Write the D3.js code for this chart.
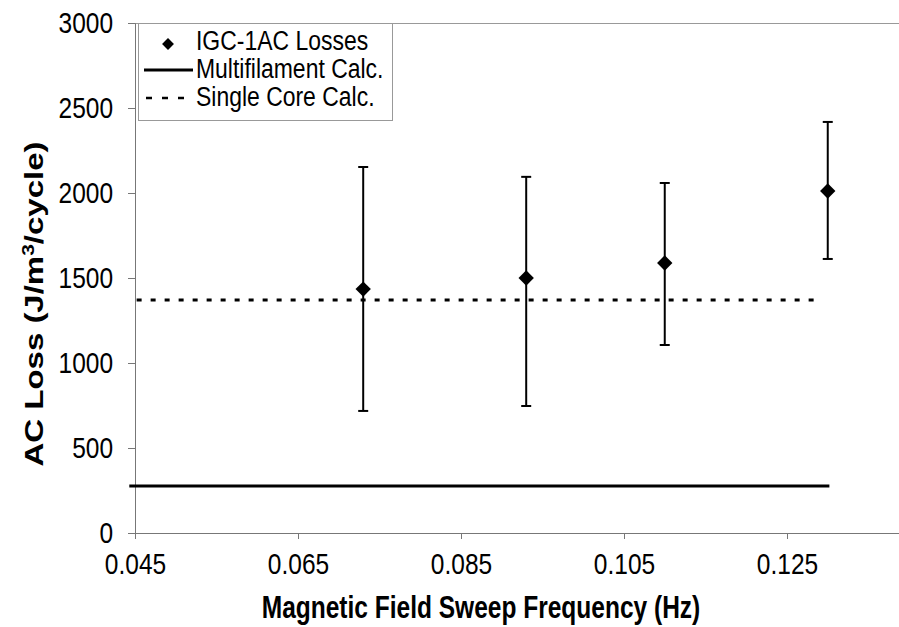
<!DOCTYPE html>
<html>
<head>
<meta charset="utf-8">
<script src="https://cdn.jsdelivr.net/npm/d3@7"></script>
<style>
  body { margin: 0; background: #fff; }
  svg { display: block; font-family: Arial, "Liberation Sans", sans-serif; }
</style>
</head>
<body>
<svg id="chart" width="899" height="627"></svg>
<script>
// Measured AC loss vs. sweep frequency, with error bars
const freq      = [0.073, 0.093, 0.110, 0.130];
const lossMean  = [1435, 1500, 1588, 2012];
const lossHigh  = [2153, 2095, 2059, 2418];
const lossLow   = [718, 747, 1106, 1612];

// Calculated reference levels (constant over the sweep range)
const multiFreq  = [0.0443, 0.1302];
const multiLoss  = [276, 276];
const singleFreq = [0.0452, 0.1291];
const singleLoss = [1370, 1370];

const xTicks = [0.045, 0.065, 0.085, 0.105, 0.125];
const yTicks = [0, 500, 1000, 1500, 2000, 2500, 3000];

const legendLabels = ["IGC-1AC Losses", "Multifilament Calc.", "Single Core Calc."];

const svg = d3.select("#chart");
const plotLeft = 135, plotTop = 23, plotBottom = 533, plotRight = 950;
// text is drawn tall and narrow
const tickFont = 29, tickSqueeze = 0.845;
const titleFont = 32, titleSqueeze = 0.766;
const legendFont = 27, legendSqueeze = 0.85;

const x = d3.scaleLinear().domain([0.045, 0.145]).range([plotLeft, plotRight]);
const y = d3.scaleLinear().domain([0, 3000]).range([plotBottom, plotTop]);

// plot frame top edge
svg.append("line")
  .attr("x1", plotLeft).attr("x2", 899).attr("y1", plotTop + 0.5).attr("y2", plotTop + 0.5)
  .attr("stroke", "#999").attr("stroke-width", 1);

// axes
const xAxis = svg.append("g")
  .attr("transform", `translate(0,${plotBottom})`)
  .call(d3.axisBottom(x).tickValues(xTicks).tickFormat(d3.format(".3f")).tickSize(6));
xAxis.select(".domain").attr("stroke", "#777").attr("d", `M${plotLeft},0.5H899`);
xAxis.selectAll(".tick line").attr("stroke", "#777");
xAxis.selectAll("text")
  .attr("font-size", tickFont).attr("fill", "#000")
  .attr("y", 41).attr("dy", 0)
  .attr("transform", `scale(${tickSqueeze},1)`);

const yAxis = svg.append("g")
  .attr("transform", `translate(${plotLeft},0)`)
  .call(d3.axisLeft(y).tickValues(yTicks).tickFormat(d3.format("d")).tickSize(7));
yAxis.select(".domain").attr("stroke", "#777");
yAxis.selectAll(".tick line").attr("stroke", "#777");
yAxis.selectAll("text")
  .attr("font-size", tickFont).attr("fill", "#000")
  .attr("x", -22 / tickSqueeze)
  .attr("transform", `scale(${tickSqueeze},1)`);

// axis titles
svg.append("text")
  .attr("transform", `translate(481,618) scale(${titleSqueeze},1)`)
  .attr("text-anchor", "middle")
  .attr("font-size", titleFont).attr("font-weight", "bold")
  .text("Magnetic Field Sweep Frequency (Hz)");

const yTitle = svg.append("text")
  .attr("transform", `translate(43,304) scale(${titleSqueeze},1) rotate(-90)`)
  .attr("text-anchor", "middle")
  .attr("font-size", 33).attr("font-weight", "bold");
yTitle.append("tspan").text("AC Loss (J/m");
yTitle.append("tspan").attr("font-size", 21).attr("dy", -12).text("3");
yTitle.append("tspan").attr("dy", 12).text("/cycle)");

// calculated lines
const line = d3.line().x(d => x(d[0])).y(d => y(d[1]));
svg.append("path")
  .datum(d3.zip(multiFreq, multiLoss))
  .attr("d", line)
  .attr("fill", "none").attr("stroke", "#000").attr("stroke-width", 3);

svg.append("path")
  .datum(d3.zip(singleFreq, singleLoss))
  .attr("d", line)
  .attr("fill", "none").attr("stroke", "#000").attr("stroke-width", 3)
  .attr("stroke-dasharray", "5,9");

// error bars
const pts = freq.map((f, i) => ({ f, m: lossMean[i], hi: lossHigh[i], lo: lossLow[i] }));
const eb = svg.append("g").selectAll("g").data(pts).join("g");
eb.append("line")
  .attr("x1", d => x(d.f)).attr("x2", d => x(d.f))
  .attr("y1", d => y(d.hi)).attr("y2", d => y(d.lo))
  .attr("stroke", "#000").attr("stroke-width", 2);
eb.selectAll(".cap").data(d => [[d.f, d.hi], [d.f, d.lo]]).join("line")
  .attr("x1", d => x(d[0]) - 5).attr("x2", d => x(d[0]) + 5)
  .attr("y1", d => y(d[1])).attr("y2", d => y(d[1]))
  .attr("stroke", "#000").attr("stroke-width", 2);

// data markers
const diamond = d3.symbol().type(d3.symbolDiamond2).size(150);
svg.append("g").selectAll("path").data(pts).join("path")
  .attr("transform", d => `translate(${x(d.f)},${y(d.m)})`)
  .attr("d", diamond)
  .attr("fill", "#000");

// legend
const lg = svg.append("g");
lg.append("rect")
  .attr("x", 138.5).attr("y", 23.5).attr("width", 254).attr("height", 97)
  .attr("fill", "#fff").attr("stroke", "#999").attr("stroke-width", 1);

const rows = [41, 69, 97];
lg.append("path")
  .attr("transform", `translate(168,${rows[0] + 3})`)
  .attr("d", d3.symbol().type(d3.symbolDiamond2).size(90))
  .attr("fill", "#000");
lg.append("line")
  .attr("x1", 144).attr("x2", 193).attr("y1", rows[1] + 1).attr("y2", rows[1] + 1)
  .attr("stroke", "#000").attr("stroke-width", 3);
lg.append("line")
  .attr("x1", 146).attr("x2", 193).attr("y1", rows[2] + 1).attr("y2", rows[2] + 1)
  .attr("stroke", "#000").attr("stroke-width", 2.5)
  .attr("stroke-dasharray", "6,10");

lg.selectAll("text.lab").data(legendLabels).join("text")
  .attr("class", "lab")
  .attr("transform", (d, i) => `translate(196,${rows[i]}) scale(${legendSqueeze},1)`)
  .attr("dy", "0.35em")
  .attr("font-size", legendFont)
  .attr("fill", "#000")
  .text(d => d);
</script>
</body>
</html>
